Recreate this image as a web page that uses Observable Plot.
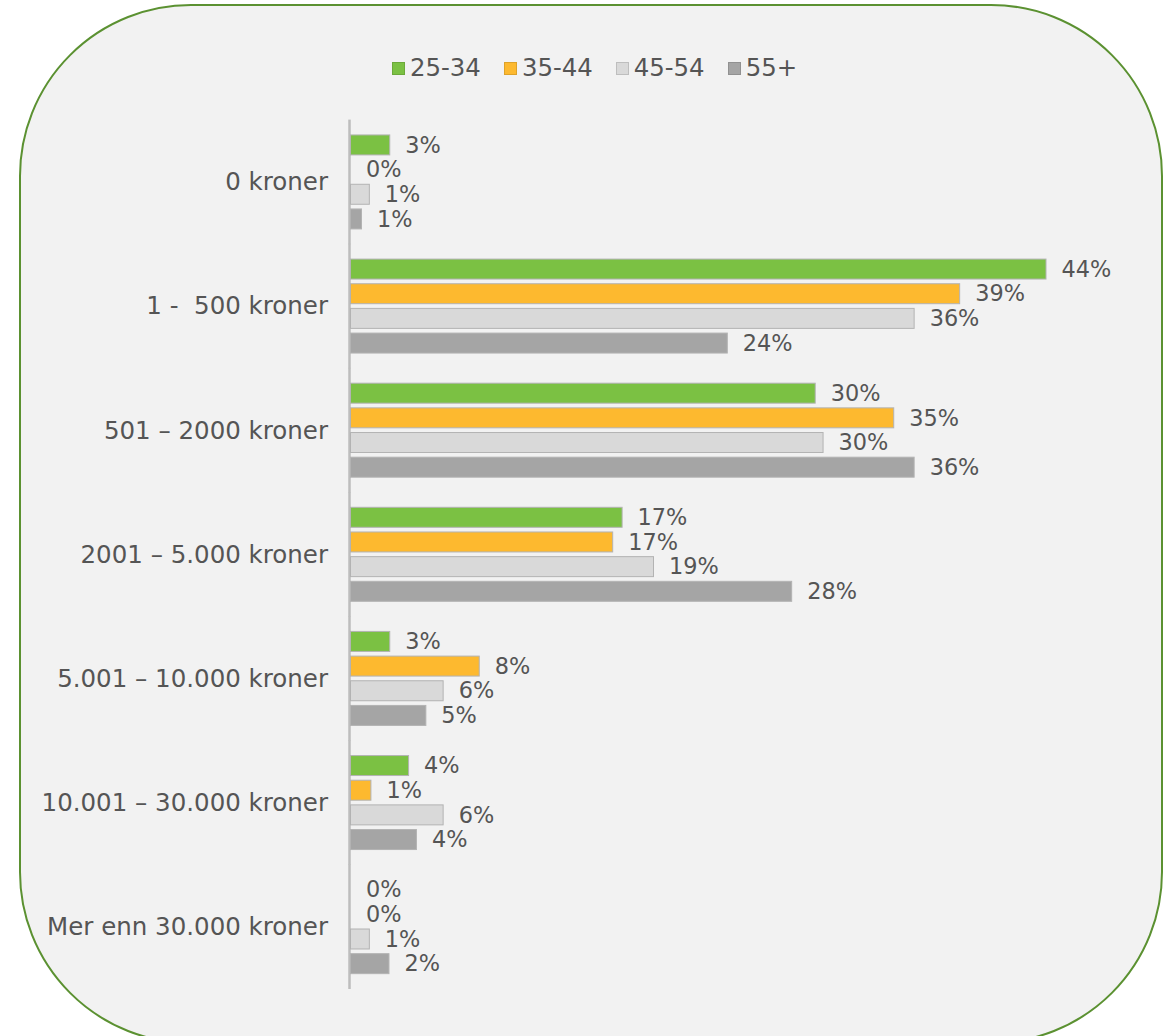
<!DOCTYPE html>
<html>
<head>
<meta charset="utf-8">
<script src="https://cdn.jsdelivr.net/npm/d3@7"></script>
<script src="https://cdn.jsdelivr.net/npm/@observablehq/plot@0.6"></script>
<style>
  body { margin: 0; background: #ffffff; width: 1175px; height: 1036px; overflow: hidden; position: relative;
         font-family: "DejaVu Sans", Verdana, sans-serif; }
  #frame { position: absolute; left: 19px; top: 4px; width: 1144px; height: 1040px; box-sizing: border-box;
           border: 2.8px solid #5b9131; border-radius: 172px; background: #f2f2f2; }
  #legend { position: absolute; left: 392px; top: 54px; height: 28px; display: flex; align-items: center;
            font-size: 24.4px; color: #555555; line-height: 28px; }
  .item { display: flex; align-items: center; margin-right: 23px; }
  .sw { width: 13px; height: 13px; box-sizing: border-box; margin-right: 5px; border: 1px solid rgba(0,0,0,0.12); }
  #chart { position: absolute; left: 0; top: 0; }
  #chart text { white-space: pre; }
</style>
</head>
<body>
<div id="frame"></div>
<div id="legend"></div>
<div id="chart"></div>
<script>
const categories = ["0 kroner", "1 -  500 kroner", "501 – 2000 kroner", "2001 – 5.000 kroner",
  "5.001 – 10.000 kroner", "10.001 – 30.000 kroner", "Mer enn 30.000 kroner"];
const series = ["25-34", "35-44", "45-54", "55+"];
const colors = ["#7bc143", "#fdb92f", "#d9d9d9", "#a5a5a5"];

// percent values per age group, in category order
const age25_34 = [2.5, 44.3, 29.6, 17.3, 2.5, 3.7, 0];
const age35_44 = [0, 38.8, 34.6, 16.7, 8.2, 1.3, 0];
const age45_54 = [1.2, 35.9, 30.1, 19.3, 5.9, 5.9, 1.2];
const age55plus = [0.7, 24.0, 35.9, 28.1, 4.8, 4.2, 2.45];

const seriesValues = [age25_34, age35_44, age45_54, age55plus];
const data = categories.flatMap((c, i) => series.map((s, j) => ({category: c, series: s, value: seriesValues[j][i]})));

// legend
const legend = document.getElementById("legend");
series.forEach((s, j) => {
  const it = document.createElement("div");
  it.className = "item";
  const sw = document.createElement("span");
  sw.className = "sw";
  sw.style.background = colors[j];
  const t = document.createElement("span");
  t.textContent = s;
  it.appendChild(sw); it.appendChild(t);
  legend.appendChild(it);
});

const chart = Plot.plot({
  width: 1175,
  height: 1036,
  marginLeft: 350.5,
  marginRight: 39.5,
  marginTop: 132.6,
  marginBottom: 60,
  x: {domain: [0, 50], axis: null},
  fy: {domain: categories, paddingInner: 0.205, paddingOuter: 0, round: false, label: null, axis: "left", tickSize: 0, tickPadding: 23},
  y: {domain: series, paddingInner: 0.19, paddingOuter: 0.095, round: false, axis: null},
  color: {domain: series, range: colors},
  style: {fontFamily: "'DejaVu Sans', Verdana, sans-serif", fontSize: "24.5px", color: "#555555", background: "transparent", overflow: "visible"},
  marks: [
    Plot.ruleX([0], {insetTop: -13, insetBottom: -13, stroke: "#bdbdbd", strokeWidth: 2.5, dx: -1.5}),
    Plot.barX(data, {x: "value", y: "series", fy: "category", fill: "series", stroke: "#b3b3b3", strokeWidth: 1}),
    Plot.text(data, {x: "value", y: "series", fy: "category", text: d => Math.round(d.value) + "%",
      textAnchor: "start", dx: 15, fill: "#555555", fontSize: 22.4})
  ]
});
document.getElementById("chart").appendChild(chart);
</script>
</body>
</html>
